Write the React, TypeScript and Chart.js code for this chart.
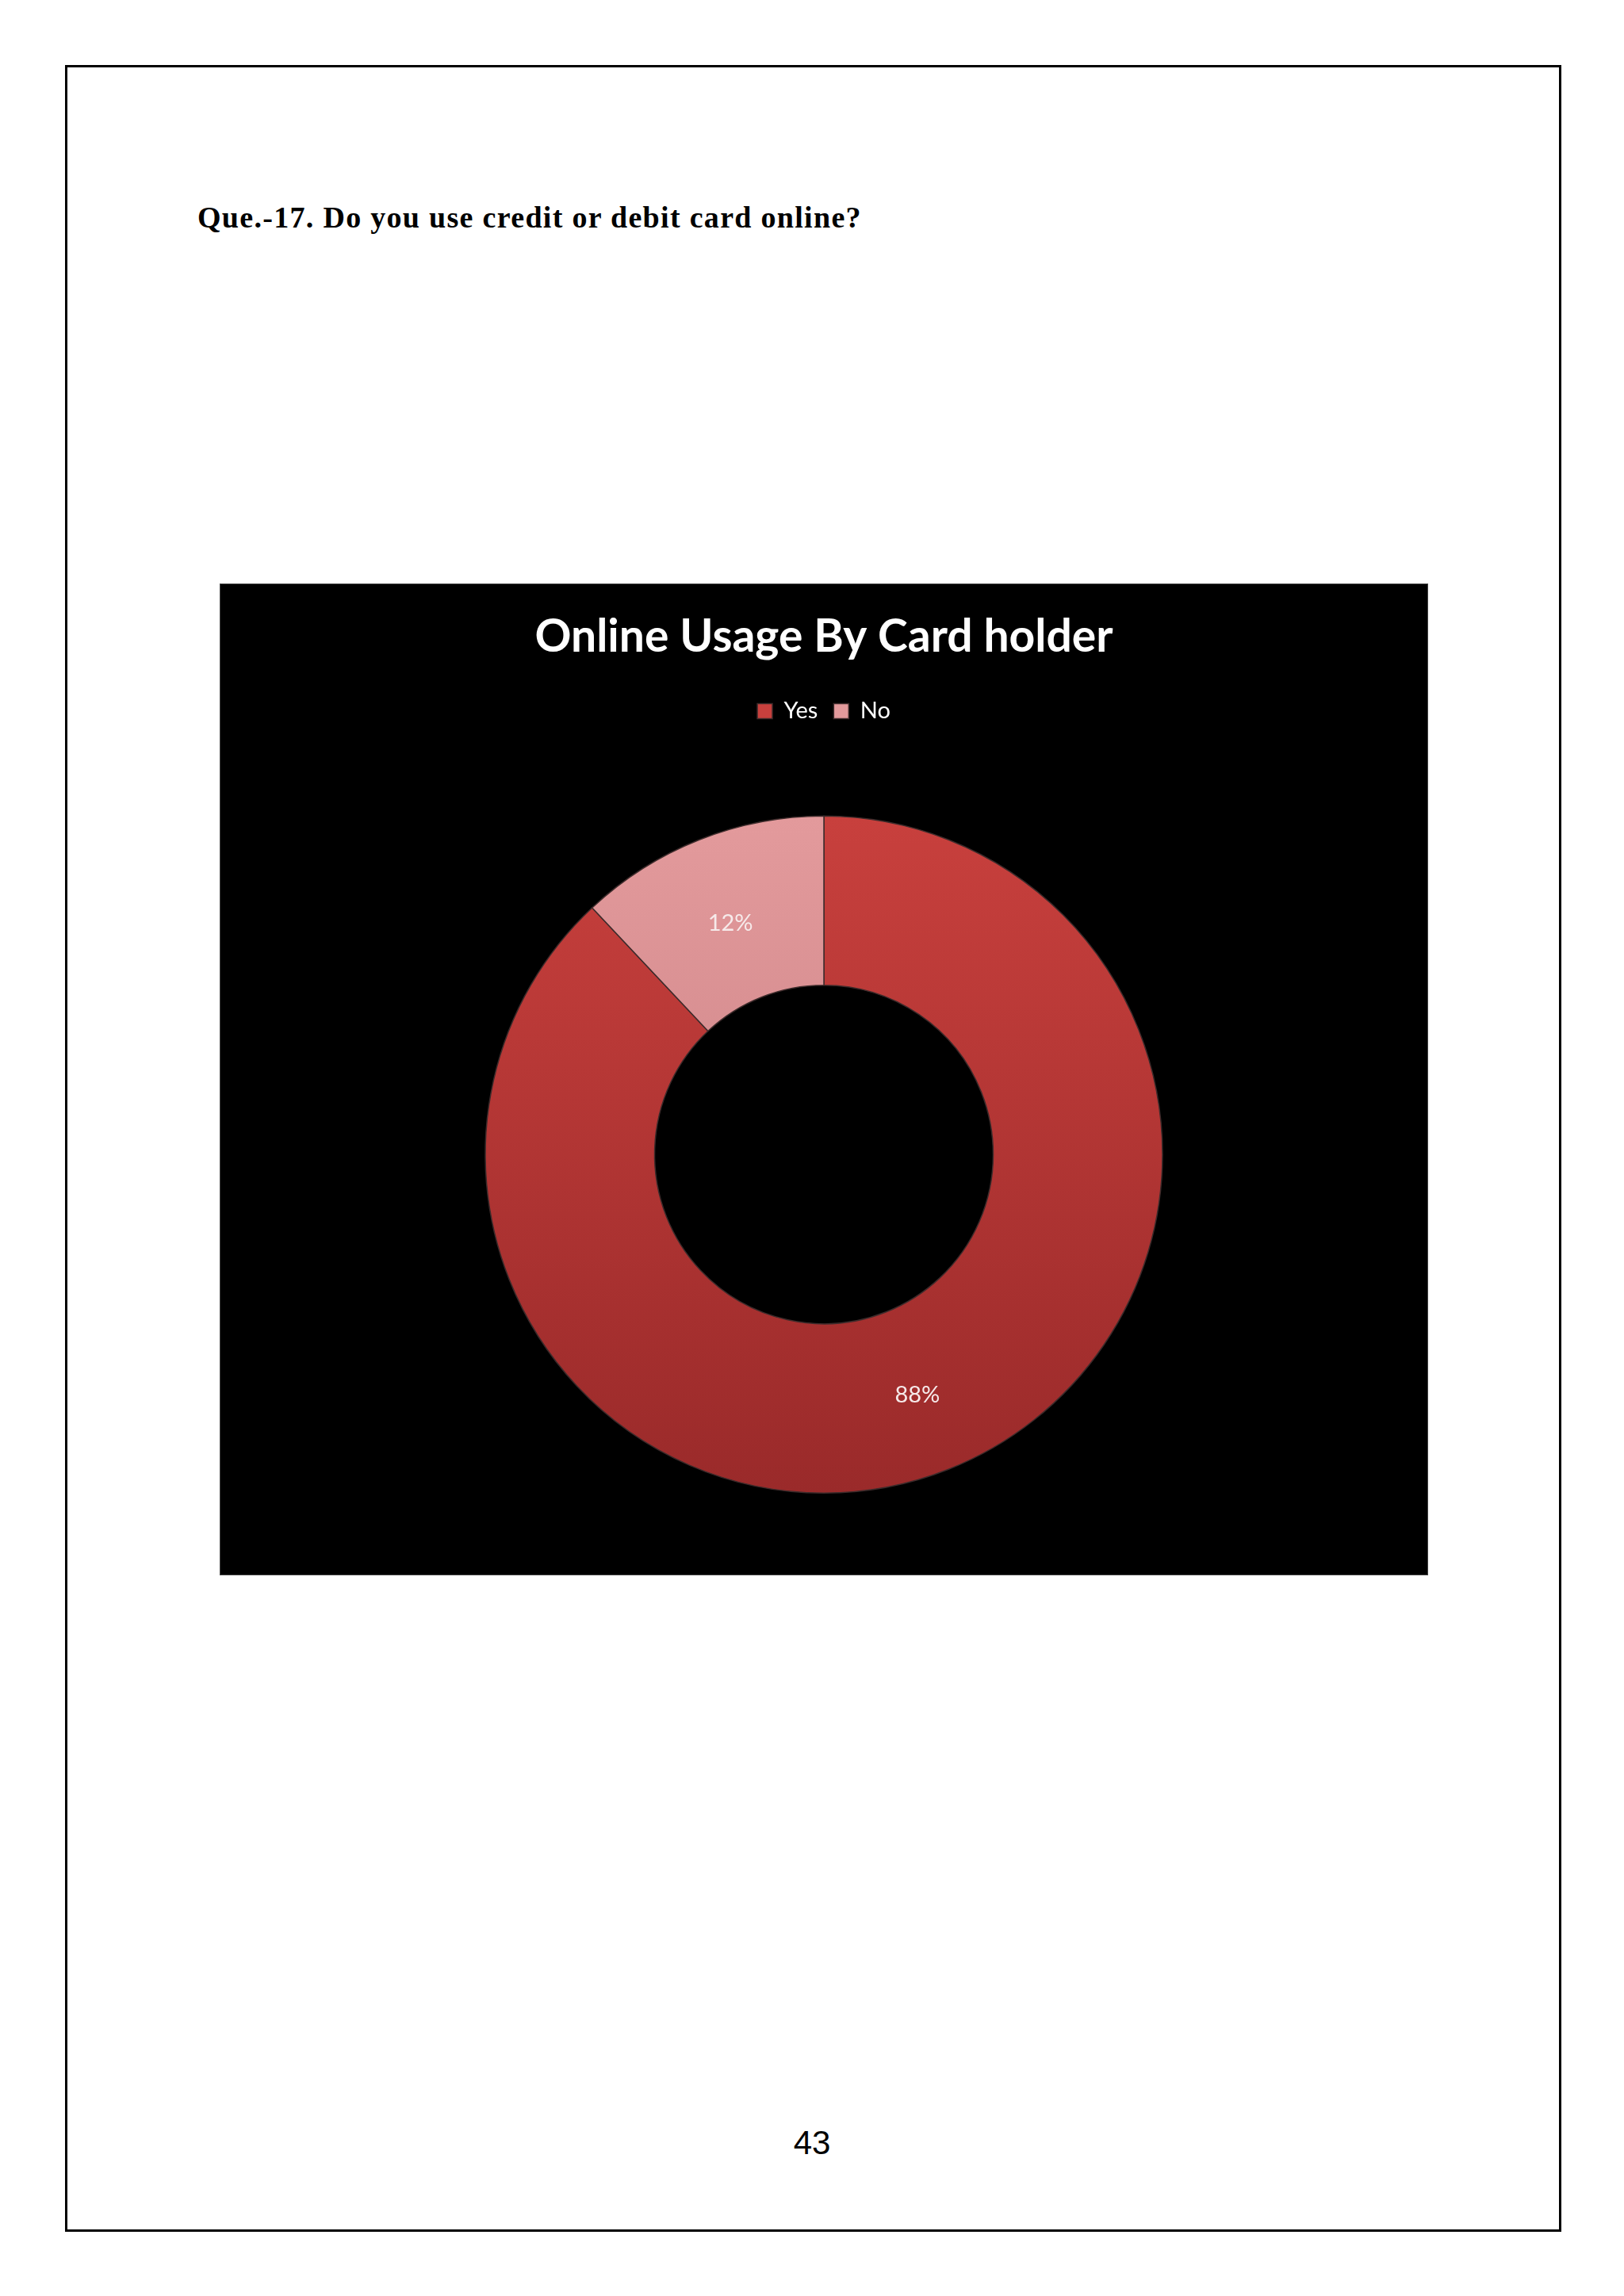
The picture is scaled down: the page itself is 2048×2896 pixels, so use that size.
import { useEffect, useRef } from "react";
import { Chart, registerables } from "chart.js";
Chart.register(...registerables);

const answers = ["Yes", "No"];
const shares = [88, 12];
const topColors = ["#c8403d", "#e39a9c"];
const bottomColors = ["#9a2a2a", "#c27a7d"];

const sliceLabels = {
  id: "sliceLabels",
  afterDatasetsDraw(chart: any) {
    const { ctx } = chart;
    const meta = chart.getDatasetMeta(0);
    const total = shares.reduce((a, b) => a + b, 0);
    ctx.save();
    ctx.font = "29px Lato, sans-serif";
    ctx.fillStyle = "#f6eaea";
    ctx.textAlign = "center";
    ctx.textBaseline = "middle";
    meta.data.forEach((arc: any, i: number) => {
      const { x, y } = arc.tooltipPosition();
      ctx.fillText(Math.round((shares[i] / total) * 100) + "%", x, y + 6);
    });
    ctx.restore();
  },
};

export default function App() {
  const canvasRef = useRef<HTMLCanvasElement | null>(null);

  useEffect(() => {
    if (!canvasRef.current) return;
    const ctx = canvasRef.current.getContext("2d");
    if (!ctx) return;

    const chart = new Chart(ctx, {
      type: "doughnut",
      data: {
        labels: answers,
        datasets: [
          {
            data: shares,
            backgroundColor: (c: any) => {
              const area = c.chart.chartArea;
              if (!area) return topColors[c.dataIndex];
              const cy = (area.top + area.bottom) / 2;
              const g = c.chart.ctx.createLinearGradient(0, cy - 427, 0, cy + 427);
              g.addColorStop(0, topColors[c.dataIndex]);
              g.addColorStop(1, bottomColors[c.dataIndex]);
              return g;
            },
            borderColor: "#3d2b2b",
            borderWidth: 1.5,
            radius: 427,
          },
        ],
      },
      options: {
        responsive: true,
        maintainAspectRatio: false,
        animation: false,
        cutout: "50%",
        layout: { padding: { top: 0, bottom: 6, left: 0, right: 0 } },
        plugins: {
          title: {
            display: true,
            text: "Online Usage By Card holder",
            color: "#ffffff",
            font: { family: "Lato, sans-serif", size: 57, weight: "bold", lineHeight: 1.2 },
            padding: { top: 33, bottom: 25 },
          },
          legend: {
            position: "top",
            labels: {
              color: "#ffffff",
              font: { family: "Lato, sans-serif", size: 29 },
              boxWidth: 19,
              boxHeight: 19,
              padding: 20,
            },
          },
          tooltip: { enabled: false },
        },
      },
      plugins: [sliceLabels],
    });

    return () => chart.destroy();
  }, []);

  return (
    <div style={{ position: "absolute", left: 0, top: 0, width: 2048, height: 2896, background: "#ffffff" }}>
      {/* page frame */}
      <div
        style={{
          position: "absolute",
          left: 82,
          top: 82,
          width: 1887,
          height: 2733,
          border: "3px solid #000",
          boxSizing: "border-box",
        }}
      />
      <div
        style={{
          position: "absolute",
          left: 249,
          top: 255,
          fontFamily: "'Liberation Serif', 'Times New Roman', serif",
          fontWeight: 700,
          fontSize: 38,
          lineHeight: "38px",
          letterSpacing: "1.3px",
          whiteSpace: "nowrap",
          color: "#000",
        }}
      >
        Que.-17. Do you use credit or debit card online?
      </div>

      {/* chart panel */}
      <div
        style={{
          position: "absolute",
          left: 277,
          top: 736,
          width: 1524,
          height: 1251,
          background: "#000",
          border: "1px solid #444",
          boxSizing: "border-box",
        }}
      >
        <div style={{ position: "absolute", left: -1, top: -1, width: 1524, height: 1261 }}>
          <canvas ref={canvasRef} />
        </div>
      </div>

      <div
        style={{
          position: "absolute",
          left: 924,
          width: 200,
          top: 2682,
          textAlign: "center",
          fontFamily: "'Liberation Sans', Arial, sans-serif",
          fontSize: 42,
          lineHeight: "42px",
          color: "#000",
        }}
      >
        43
      </div>
    </div>
  );
}
